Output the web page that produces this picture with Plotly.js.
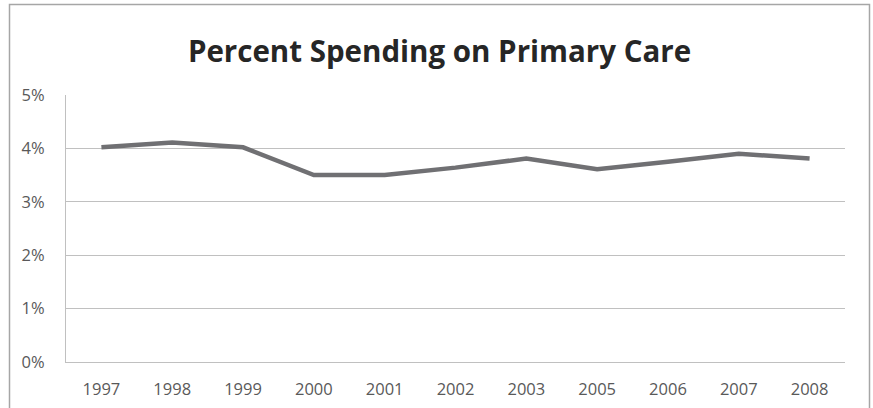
<!DOCTYPE html>
<html>
<head>
<meta charset="utf-8">
<script src="https://cdn.plot.ly/plotly-3.0.1.min.js"></script>
<style>
html,body{margin:0;padding:0;background:#fff;}
#chart{width:873px;height:408px;}
</style>
</head>
<body>
<div id="chart"></div>
<script>
const years = ['1997','1998','1999','2000','2001','2002','2003','2005','2006','2007','2008'];
const percentSpending = [4.02, 4.11, 4.02, 3.50, 3.50, 3.64, 3.81, 3.61, 3.75, 3.90, 3.81];
const yTicks = [0, 1, 2, 3, 4, 5];
const yTickLabels = ['0%', '1%', '2%', '3%', '4%', '5%'];
const chartTitle = 'Percent Spending on Primary Care';

const L = 66, R = 28, T = 95, B = 46, W = 873, H = 408;
const pw = W - L - R, ph = H - T - B;
const px = v => (v - L) / pw;
const py = v => (H - B - v) / ph;

const trace = {
  x: years,
  y: percentSpending,
  type: 'scatter',
  mode: 'lines',
  line: {color: '#707073', width: 4.5},
  hoverinfo: 'skip'
};

const layout = {
  width: W, height: H,
  margin: {l: L, r: R, t: T, b: B, pad: 0},
  paper_bgcolor: '#ffffff',
  plot_bgcolor: '#ffffff',
  showlegend: false,
  font: {family: 'Open Sans, sans-serif', color: '#595959', size: 16},
  title: {
    text: '<b>' + chartTitle + '</b>',
    font: {family: 'Open Sans, sans-serif', size: 29.5, color: '#262626'},
    x: 439.5 / W, xref: 'container', xanchor: 'center',
    y: 1 - 52 / H, yref: 'container', yanchor: 'middle'
  },
  xaxis: {
    type: 'category',
    categoryorder: 'array',
    categoryarray: years,
    range: [-0.5, years.length - 0.5],
    showgrid: false,
    zeroline: false,
    showline: true,
    linecolor: '#c0c0c0',
    linewidth: 1,
    ticks: '',
    ticklabelstandoff: 12,
    tickfont: {size: 16.5, color: '#595959'},
    fixedrange: true
  },
  yaxis: {
    range: [0, 5],
    tickvals: yTicks,
    ticktext: yTickLabels,
    showgrid: true,
    gridcolor: '#c0c0c0',
    gridwidth: 1,
    zeroline: false,
    showline: true,
    linecolor: '#c0c0c0',
    linewidth: 1,
    ticks: '',
    ticklabelstandoff: 17,
    tickfont: {size: 16.5, color: '#595959'},
    fixedrange: true
  },
  shapes: [{
    type: 'rect', xref: 'paper', yref: 'paper',
    x0: px(9.5), x1: px(869.5), y0: py(412), y1: py(4.5),
    line: {color: '#a6a6a6', width: 1.5},
    fillcolor: 'rgba(0,0,0,0)',
    layer: 'below'
  }]
};

Plotly.newPlot('chart', [trace], layout, {displayModeBar: false, staticPlot: true});
</script>
</body>
</html>
